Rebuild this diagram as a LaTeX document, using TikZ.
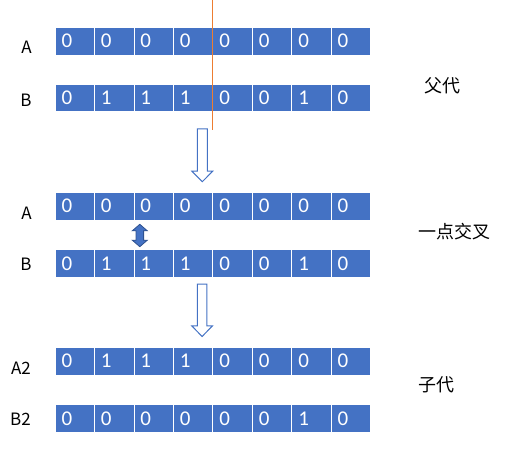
\documentclass[tikz,border=0pt]{standalone}
\usepackage{fontspec}
\newfontfamily\digitfont{Carlito}
\newfontfamily\cjk{Noto Sans CJK SC}
\definecolor{cellblue}{HTML}{4472C4}
\definecolor{darkblue}{HTML}{2F528F}
\definecolor{cutorange}{HTML}{ED7D31}
\begin{document}
\begin{tikzpicture}[x=1pt,y=-1pt,
  cell/.style={rectangle, fill=cellblue, draw=white, line width=0.8pt,
    minimum width=39.46pt, minimum height=27.8pt, inner ysep=0pt,
    inner xsep=6.5pt, text width=26.46pt, align=left, text=white,
    font=\digitfont\fontsize{21}{21}\selectfont},
  rowlabel/.style={inner sep=0pt, font=\cjk\fontsize{17}{17}\selectfont},
  cjklabel/.style={inner sep=0pt, font=\cjk\fontsize{18}{18}\selectfont},
  hollowarrow/.style={draw=cellblue, fill=white, line width=1pt, line join=miter},
  dblarrow/.style={draw=darkblue, fill=cellblue, line width=0.8pt, line join=miter},
  cutline/.style={draw=cutorange, line width=1.5pt}]
\useasboundingbox (0,0) rectangle (508,454);
% parent rows
\foreach \b [count=\i] in {0,0,0,0,0,0,0,0}
  \node[cell] (paC\i) at ({55+39.46*(\i-0.5)},41.2) {\b};
\foreach \b [count=\i] in {0,1,1,1,0,0,1,0}
  \node[cell] (pbC\i) at ({55+39.46*(\i-0.5)},97.9) {\b};
% crossover rows
\foreach \b [count=\i] in {0,0,0,0,0,0,0,0}
  \node[cell] (xaC\i) at ({55+39.46*(\i-0.5)},206.2) {\b};
\foreach \b [count=\i] in {0,1,1,1,0,0,1,0}
  \node[cell] (xbC\i) at ({55+39.46*(\i-0.5)},263.4) {\b};
% child rows
\foreach \b [count=\i] in {0,1,1,1,0,0,0,0}
  \node[cell] (caC\i) at ({55+39.46*(\i-0.5)},361.2) {\b};
\foreach \b [count=\i] in {0,0,0,0,0,0,1,0}
  \node[cell] (cbC\i) at ({55+39.46*(\i-0.5)},418.3) {\b};
% row labels
\node[rowlabel] (labPA) at (26.5,47.3) {A};
\node[rowlabel] (labPB) at (26,100) {B};
\node[rowlabel] (labXA) at (26.5,213) {A};
\node[rowlabel] (labXB) at (26,264.5) {B};
\node[rowlabel] (labCA) at (21,368.7) {A2};
\node[rowlabel] (labCB) at (20.5,419.5) {B2};
% stage labels
\node[cjklabel] (stParent) at (442.3,85.8) {父代};
\node[cjklabel] (stCross) at (454,231.5) {一点交叉};
\node[cjklabel] (stChild) at (436.7,385) {子代};
% cut line
\coordinate (cuttop) at (212.3,0);
\coordinate (cutbot) at (212.3,130);
\draw[cutline] (cuttop) -- (cutbot);
% hollow arrows
\draw[hollowarrow] (197.3,129) -- (207.3,129) -- (207.3,171.2) -- (212.7,171.2)
  -- (202.3,181.7) -- (191.9,171.2) -- (197.3,171.2) -- cycle;
\draw[hollowarrow] (197.3,284) -- (206.9,284) -- (206.9,325.8) -- (212.5,325.8)
  -- (202.1,336.5) -- (191.7,325.8) -- (197.3,325.8) -- cycle;
% double arrow (swap)
\draw[dblarrow] (139.8,224.3) -- (147.3,230.8) -- (143.6,230.8) -- (143.6,240.2)
  -- (147.3,240.2) -- (139.8,246.7) -- (132.3,240.2) -- (136,240.2)
  -- (136,230.8) -- (132.3,230.8) -- cycle;
\end{tikzpicture}
\end{document}
